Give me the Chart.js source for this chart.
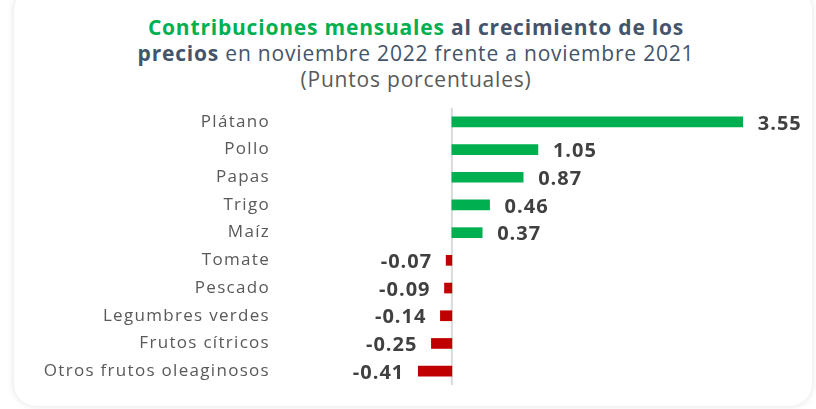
<!DOCTYPE html>
<html>
<head>
<meta charset="utf-8">
<script src="https://cdn.jsdelivr.net/npm/chart.js@4/dist/chart.umd.min.js"></script>
<style>
  html, body { margin: 0; padding: 0; background: #fff; width: 816px; height: 409px; overflow: hidden; }
  .card {
    position: absolute; left: 14px; top: -12px; width: 798px; height: 418px;
    border-radius: 22px; background: #fff;
    box-shadow: 0 0 7px rgba(0, 0, 0, 0.12);
  }
  .title {
    position: absolute; left: 0; top: 14px; width: 832px; text-align: center;
    font-family: "Open Sans", sans-serif; font-size: 21px; line-height: 26px; color: #44546A;
    letter-spacing: 0.8px;
  }
  .title b { font-weight: 700; }
  .title .g { color: #00B050; }
  .title .sub { color: #595959; }
  canvas { position: absolute; left: 0; top: 0; }
</style>
</head>
<body>
<div class="card"></div>
<div class="title">
  <b class="g">Contribuciones mensuales</b> <b>al crecimiento de los</b><br>
  <b>precios</b> en noviembre 2022 frente a noviembre 2021<br>
  <span class="sub">(Puntos porcentuales)</span>
</div>
<canvas id="chart" width="816" height="409"></canvas>
<script>
// product categories and their contribution (percentage points)
const categories = ['Plátano', 'Pollo', 'Papas', 'Trigo', 'Maíz', 'Tomate', 'Pescado', 'Legumbres verdes', 'Frutos cítricos', 'Otros frutos oleaginosos'];
const contributions = [3.55, 1.05, 0.87, 0.46, 0.37, -0.07, -0.09, -0.14, -0.25, -0.41];

const green = '#00B050';
const red = '#C00000';

// wider lettering, closer to the original geometric font
const spacing = {
    id: 'spacing',
    beforeDraw(chart) {
        chart.ctx.letterSpacing = '1.3px';
    }
};

// zero line drawn across the plot height
const zeroLine = {
    id: 'zeroLine',
    beforeDatasetsDraw(chart) {
        const { ctx, chartArea, scales } = chart;
        const x = scales.x.getPixelForValue(0);
        ctx.save();
        ctx.strokeStyle = '#d9d9d9';
        ctx.lineWidth = 2;
        ctx.beginPath();
        ctx.moveTo(x, chartArea.top);
        ctx.lineTo(x, chartArea.bottom);
        ctx.stroke();
        ctx.restore();
    }
};

// bold value labels next to each bar
const valueLabels = {
    id: 'valueLabels',
    afterDatasetsDraw(chart) {
        const { ctx } = chart;
        const meta = chart.getDatasetMeta(0);
        ctx.save();
        ctx.letterSpacing = '1px';
        ctx.font = 'bold 20px "Open Sans", sans-serif';
        ctx.fillStyle = '#404040';
        ctx.textBaseline = 'middle';
        meta.data.forEach((bar, i) => {
            const v = contributions[i];
            const text = v.toFixed(2);
            if (v >= 0) {
                ctx.textAlign = 'left';
                ctx.fillText(text, bar.x + 15, bar.y + 2);
            } else {
                ctx.textAlign = 'right';
                ctx.fillText(text, bar.x - 14, bar.y + 2);
            }
        });
        ctx.restore();
    }
};

const ctx = document.getElementById('chart').getContext('2d');
new Chart(ctx, {
    type: 'bar',
    data: {
        labels: categories,
        datasets: [{
            data: contributions,
            backgroundColor: contributions.map(v => v >= 0 ? green : red),
            barThickness: 10,
        }],
    },
    options: {
        indexAxis: 'y',
        responsive: false,
        animation: false,
        layout: { padding: { top: 108, bottom: 24, right: 20, left: 0 } },
        plugins: {
            legend: { display: false },
            tooltip: { enabled: false },
        },
        scales: {
            x: {
                display: false,
                min: -2,
                max: 4.2,
            },
            y: {
                afterFit(scale) { scale.width = 288; },
                grid: { display: false },
                border: { display: false },
                ticks: {
                    padding: 10,
                    color: '#595959',
                    font: { family: '"Open Sans", sans-serif', size: 17 },
                },
            },
        },
    },
    plugins: [spacing, zeroLine, valueLabels],
});
</script>
</body>
</html>
